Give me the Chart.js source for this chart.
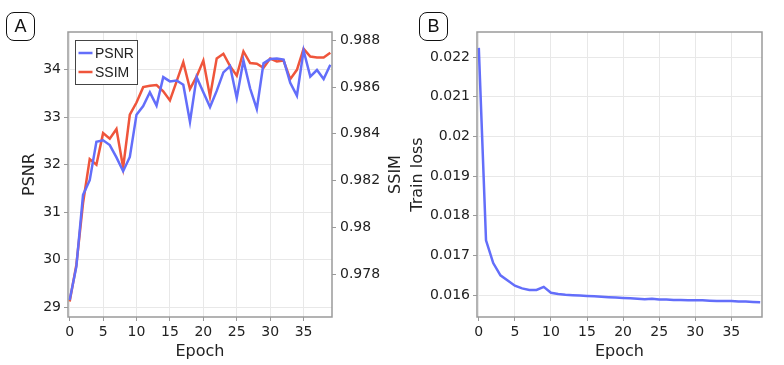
<!DOCTYPE html>
<html>
<head>
<meta charset="utf-8">
<script src="https://cdn.jsdelivr.net/npm/chart.js@4.4.1/dist/chart.umd.min.js"></script>
<style>
  body { margin: 0; background: #fff; }
  #wrap { position: relative; width: 784px; height: 365px; }
  canvas { position: absolute; top: 0; }
  #chartA { left: 0; }
  #chartB { left: 400px; }
  .panel {
    position: absolute; top: 12px; width: 27px; height: 27px;
    border: 1px solid #111; border-radius: 8px;
    font: 18px "Liberation Sans", Arial, sans-serif; color: #111;
    text-align: center; line-height: 27px;
  }
</style>
</head>
<body>
<div id="wrap">
  <canvas id="chartA" width="410" height="365"></canvas>
  <canvas id="chartB" width="384" height="365"></canvas>
  <div class="panel" style="left:6px">A</div>
  <div class="panel" style="left:419px">B</div>
</div>
<script>
const epochs = Array.from({length: 40}, (_, i) => i);

const psnr = [29.15, 29.85, 31.36, 31.67, 32.48, 32.51, 32.41, 32.15, 31.86, 32.16,
              33.05, 33.23, 33.52, 33.24, 33.84, 33.75, 33.77, 33.68, 32.9, 33.84,
              33.52, 33.21, 33.55, 33.94, 34.07, 33.4, 34.19, 33.6, 33.17, 34.13,
              34.22, 34.23, 34.21, 33.72, 33.45, 34.4, 33.85, 33.99, 33.8, 34.1];

const ssim = [0.97682, 0.97839, 0.98104, 0.98292, 0.98268, 0.98403, 0.98379, 0.98421, 0.98256, 0.98482,
              0.98534, 0.986, 0.98606, 0.98609, 0.98582, 0.98543, 0.98625, 0.98707, 0.98592, 0.98646,
              0.98714, 0.9856, 0.98723, 0.98743, 0.9869, 0.98649, 0.98753, 0.98703, 0.987, 0.98683,
              0.98722, 0.9871, 0.98714, 0.98634, 0.98674, 0.98764, 0.98731, 0.98727, 0.98727, 0.98747];

const trainLoss = [0.02223, 0.01738, 0.01681, 0.0165, 0.01637, 0.01624, 0.01617, 0.01613, 0.01613, 0.01621,
                   0.01606, 0.01603, 0.01601, 0.016, 0.01599, 0.01598, 0.01597, 0.01596, 0.01595, 0.01594,
                   0.01593, 0.01592, 0.01591, 0.0159, 0.01591, 0.01589, 0.01589, 0.01588, 0.01588, 0.01587,
                   0.01587, 0.01587, 0.01586, 0.01585, 0.01585, 0.01585, 0.01584, 0.01584, 0.01583, 0.01582];

const epochTicks = [0, 5, 10, 15, 20, 25, 30, 35];
const psnrTicks = [29, 30, 31, 32, 33, 34];
const ssimTicks = [0.978, 0.98, 0.982, 0.984, 0.986, 0.988];
const lossTicks = [0.016, 0.017, 0.018, 0.019, 0.02, 0.021, 0.022];

const BLUE = '#636efa';
const RED = '#ef553b';
const GRID = '#e8e8e8';
const AXIS = '#9a9a9a';
const TEXT = '#222';
const tickFont = {family: 'DejaVu Sans', size: 14};
const titleFont = {family: 'DejaVu Sans', size: 16};

const pts = ys => ys.map((y, i) => ({x: epochs[i], y: y}));
const fixTicks = vals => s => { s.ticks = vals.map(v => ({value: v})); };
const fmt = v => String(+(+v).toFixed(4));

// box around the plot area, legend for panel A, and the right axis title (reads bottom-to-top)
const frame = {
  id: 'frame',
  afterDatasetsDraw(chart, args, opts) {
    const {ctx, chartArea: a} = chart;
    ctx.save();
    ctx.strokeStyle = AXIS;
    ctx.lineWidth = 1.5;
    ctx.strokeRect(a.left, a.top, a.right - a.left, a.bottom - a.top);
    if (opts.legend) {
      const x = a.left + 7, y = a.top + 8;
      ctx.fillStyle = '#fff';
      ctx.fillRect(x, y, 62, 44);
      ctx.strokeStyle = '#444';
      ctx.lineWidth = 1;
      ctx.strokeRect(x + 0.5, y + 0.5, 62, 44);
      ctx.font = '14px "Liberation Sans", Arial, sans-serif';
      ctx.textBaseline = 'middle';
      chart.data.datasets.forEach((ds, i) => {
        const ly = y + 13 + i * 19;
        ctx.strokeStyle = ds.borderColor;
        ctx.lineWidth = 2.5;
        ctx.beginPath();
        ctx.moveTo(x + 3.5, ly);
        ctx.lineTo(x + 17.5, ly);
        ctx.stroke();
        ctx.fillStyle = TEXT;
        ctx.fillText(ds.label, x + 20, ly + 1);
      });
    }
    if (opts.rightTitle) {
      ctx.translate(a.right + 64, (a.top + a.bottom) / 2);
      ctx.rotate(-Math.PI / 2);
      ctx.font = '16px "DejaVu Sans"';
      ctx.fillStyle = TEXT;
      ctx.textAlign = 'center';
      ctx.textBaseline = 'middle';
      ctx.fillText(opts.rightTitle, 0, 0);
    }
    ctx.restore();
  }
};

const xAxis = {
  type: 'linear', min: -0.25, max: 39.25,
  afterBuildTicks: fixTicks(epochTicks),
  afterFit: s => { s.height = 48; },
  grid: {color: GRID, tickColor: AXIS, tickLength: 4},
  border: {display: false},
  ticks: {color: TEXT, font: tickFont, padding: 3, maxRotation: 0, callback: v => String(v)},
  title: {display: true, text: 'Epoch', color: TEXT, font: titleFont, padding: {top: 4, bottom: 4}}
};

new Chart(document.getElementById('chartA'), {
  type: 'line',
  data: {
    datasets: [
      {label: 'PSNR', data: pts(psnr), yAxisID: 'y', borderColor: BLUE, borderWidth: 2.5, pointRadius: 0},
      {label: 'SSIM', data: pts(ssim), yAxisID: 'y1', borderColor: RED, borderWidth: 2.5, pointRadius: 0}
    ]
  },
  options: {
    responsive: false,
    animation: false,
    layout: {padding: {top: 32, left: 0, right: 0, bottom: 0}},
    scales: {
      x: xAxis,
      y: {
        position: 'left', min: 28.79, max: 34.79,
        afterBuildTicks: fixTicks(psnrTicks),
        afterFit: s => { s.width = 68; },
        grid: {color: GRID, tickColor: AXIS, tickLength: 4},
        border: {display: false},
        ticks: {color: TEXT, font: tickFont, padding: 3, callback: fmt},
        title: {display: true, text: 'PSNR', color: TEXT, font: titleFont, padding: {top: 20, bottom: 4}}
      },
      y1: {
        position: 'right', min: 0.97616, max: 0.98836,
        afterBuildTicks: fixTicks(ssimTicks),
        afterFit: s => { s.width = 78; },
        grid: {drawOnChartArea: false, tickColor: AXIS, tickLength: 4},
        border: {display: false},
        ticks: {color: TEXT, font: tickFont, padding: 4, callback: fmt}
      }
    },
    plugins: {
      legend: {display: false},
      tooltip: {enabled: false},
      frame: {legend: true, rightTitle: 'SSIM'}
    }
  },
  plugins: [frame]
});

new Chart(document.getElementById('chartB'), {
  type: 'line',
  data: {
    datasets: [
      {label: 'Train loss', data: pts(trainLoss), borderColor: BLUE, borderWidth: 2.5, pointRadius: 0}
    ]
  },
  options: {
    responsive: false,
    animation: false,
    layout: {padding: {top: 32, left: 0, right: 22, bottom: 0}},
    scales: {
      x: xAxis,
      y: {
        position: 'left', min: 0.01545, max: 0.02263,
        afterBuildTicks: fixTicks(lossTicks),
        afterFit: s => { s.width = 77; },
        grid: {color: GRID, tickColor: AXIS, tickLength: 4},
        border: {display: false},
        ticks: {color: TEXT, font: tickFont, padding: 3, callback: fmt},
        title: {display: true, text: 'Train loss', color: TEXT, font: titleFont, padding: {top: 8, bottom: 4}}
      }
    },
    plugins: {
      legend: {display: false},
      tooltip: {enabled: false},
      frame: {legend: false}
    }
  },
  plugins: [frame]
});
</script>
</body>
</html>
